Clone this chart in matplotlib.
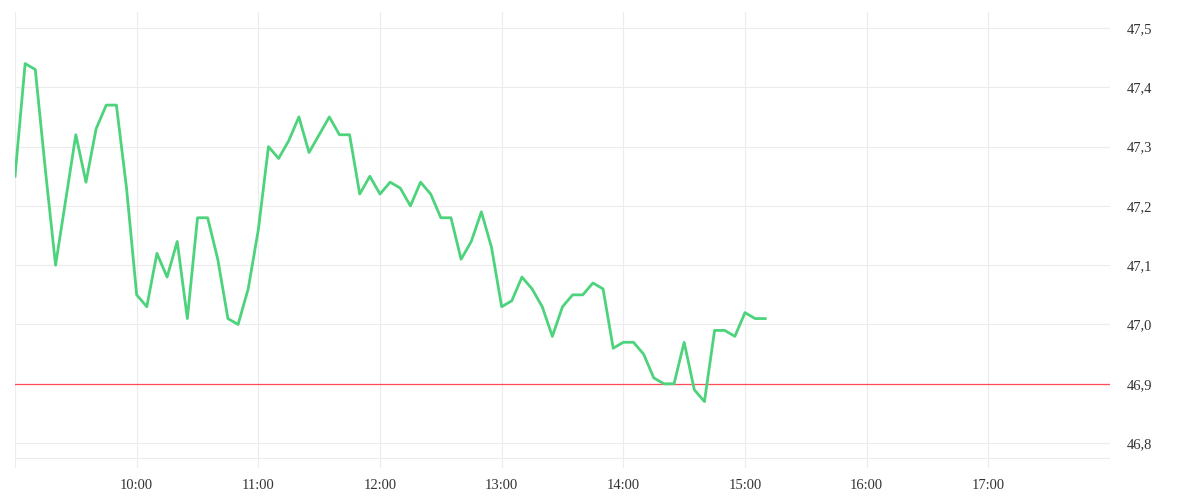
import matplotlib
matplotlib.use("Agg")
import matplotlib.pyplot as plt
import matplotlib.dates as mdates
import matplotlib.ticker as mticker
import pandas as pd

VERDE = "#4cd37b"
VERMELHO = "#ff4b55"
GRADE = "#ececec"
TEXTO = "#333333"

# cotacao a cada 5 minutos, a partir das 09:00
precos = [
    47.25, 47.44, 47.43, 47.26, 47.10, 47.21, 47.32, 47.24, 47.33, 47.37, 47.37, 47.23,
    47.05, 47.03, 47.12, 47.08, 47.14, 47.01, 47.18, 47.18, 47.11, 47.01, 47.00, 47.06,
    47.16, 47.30, 47.28, 47.31, 47.35, 47.29, 47.32, 47.35, 47.32, 47.32, 47.22, 47.25,
    47.22, 47.24, 47.23, 47.20, 47.24, 47.22, 47.18, 47.18, 47.11, 47.14, 47.19, 47.13,
    47.03, 47.04, 47.08, 47.06, 47.03, 46.98, 47.03, 47.05, 47.05, 47.07, 47.06, 46.96,
    46.97, 46.97, 46.95, 46.91, 46.90, 46.90, 46.97, 46.89, 46.87, 46.99, 46.99, 46.98,
    47.02, 47.01, 47.01,
]
horarios = pd.date_range("2024-01-02 09:00", periods=len(precos), freq="5min")
fechamento_anterior = 46.90
inicio, fim = pd.Timestamp("2024-01-02 09:00"), pd.Timestamp("2024-01-02 18:00")
yticks = [46.8, 46.9, 47.0, 47.1, 47.2, 47.3, 47.4, 47.5]

plt.rcParams["font.family"] = ["Liberation Serif", "DejaVu Serif"]

fig = plt.figure(figsize=(12, 5), dpi=100)
ax = fig.add_axes([15 / 1200, 32 / 500, (1110 - 15) / 1200, (468 - 12) / 500])

ax.plot(horarios, precos, color=VERDE, linewidth=2.0, zorder=3)
ax.axhline(fechamento_anterior, color=VERMELHO, linewidth=0.9, zorder=2)

ax.set_xlim(inicio, fim)
ax.set_ylim(46.758, 47.527)

# grade vertical a cada hora (inclusive bordas), rotulos so de 10:00 a 17:00
horas = pd.date_range(inicio, fim, freq="1h")
for h in horas:
    ax.axvline(h, color=GRADE, linewidth=0.8, zorder=0)
ax.set_xticks(horas[1:-1])
ax.xaxis.set_major_formatter(mdates.DateFormatter("%H:%M"))

ax.set_yticks(yticks)
ax.yaxis.set_major_formatter(mticker.FuncFormatter(lambda v, _: f"{v:.1f}".replace(".", ",")))
ax.yaxis.tick_right()
ax.grid(axis="y", color=GRADE, linewidth=0.8, zorder=0)
ax.plot([0, 1], [0.022, 0.022], transform=ax.transAxes, color=GRADE, linewidth=0.8, zorder=0)

ax.tick_params(axis="both", length=0, colors=TEXTO, labelsize=10.5)
ax.tick_params(axis="y", pad=12)
ax.tick_params(axis="x", pad=8)
for lbl in ax.get_yticklabels():
    lbl.set_horizontalalignment("left")
for s in ax.spines.values():
    s.set_visible(False)

fig.savefig("out.png", dpi=100)
plt.close(fig)
